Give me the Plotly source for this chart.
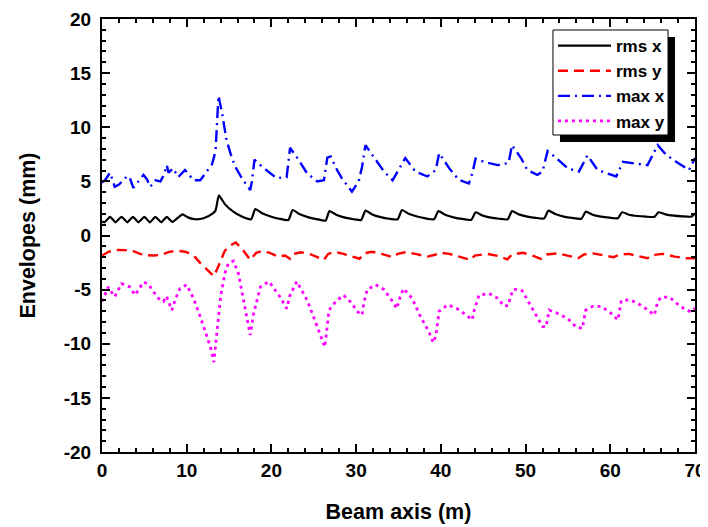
import plotly.graph_objects as go

# ---- data ----
rms_x_s = [0, 0.3, 0.95, 1.6, 2.3, 3.0, 3.65, 4.3, 5.0, 5.65, 6.3, 7.0, 7.65, 8.3, 8.9, 9.5, 10.2, 11.0, 12.0, 13.0, 13.4, 13.8,
           14.5, 15.5, 16.5, 17.6, 18.1, 18.9, 19.9, 20.9, 22.0, 22.5, 23.3, 24.3, 25.3, 26.4, 26.85, 27.7, 28.7, 29.7, 30.6,
           31.1, 31.9, 32.9, 33.9, 34.9, 35.4, 36.2, 37.2, 38.2, 39.2, 39.7, 40.5, 41.5, 42.5, 43.6, 44.1, 44.9, 45.9, 46.9,
           47.9, 48.4, 49.2, 50.2, 51.2, 52.2, 52.7, 53.5, 54.5, 55.5, 56.6, 57.1, 57.9, 58.9, 59.9, 60.9, 61.4, 62.2, 63.2,
           64.2, 65.2, 65.7, 66.5, 67.5, 68.5, 69.6, 70.0]
rms_x_v = [1.3, 1.22, 1.72, 1.22, 1.72, 1.22, 1.72, 1.22, 1.72, 1.22, 1.72, 1.22, 1.72, 1.25, 1.6, 1.95, 1.65, 1.5, 1.6, 2.0, 2.3, 3.7,
           2.9, 2.2, 1.75, 1.5, 2.45, 2.05, 1.75, 1.55, 1.43, 2.35, 1.98, 1.7, 1.52, 1.38, 2.25, 1.9, 1.65, 1.5, 1.43,
           2.3, 1.95, 1.7, 1.55, 1.5, 2.35, 2.0, 1.75, 1.58, 1.5, 2.25, 1.92, 1.68, 1.53, 1.45, 2.15, 1.85, 1.65, 1.55,
           1.5, 2.25, 1.95, 1.75, 1.63, 1.58, 2.3, 1.98, 1.75, 1.62, 1.55, 2.2, 1.92, 1.75, 1.65, 1.6, 2.15, 1.92, 1.8,
           1.74, 1.72, 2.15, 1.95, 1.83, 1.77, 1.75, 2.05]

rms_y_s = [0, 0.8, 1.7, 2.7, 3.7, 4.5, 5.3, 6.1, 6.9, 8.0, 9.0, 9.8, 10.4, 11.0, 11.6, 12.5, 13.2, 13.6, 14.5, 15.2, 15.8, 16.5,
           17.5, 18.2, 18.9, 19.8, 20.8, 21.6, 22.2, 22.6, 23.5, 24.5, 25.5, 26.2, 26.7, 27.5, 28.5, 29.3, 30.4, 30.9, 31.9,
           33.0, 34.3, 34.9, 35.8, 37.0, 38.4, 39.2, 40.0, 41.0, 42.5, 43.5, 44.0, 45.5, 46.8, 47.85, 48.4, 49.7, 51.0, 51.8,
           52.5, 53.8, 55.2, 56.2, 56.9, 58.0, 59.3, 60.4, 61.1, 62.2, 63.3, 64.4, 65.0, 66.2, 67.6, 68.8, 70.0]
rms_y_v = [-1.85, -1.5, -1.34, -1.35, -1.45, -1.7, -1.82, -1.85, -1.8, -1.5, -1.42, -1.5, -1.65, -2.0, -2.55, -3.2, -3.75, -3.1,
           -1.4, -0.9, -0.65, -1.2, -2.25, -1.6, -1.43, -1.6, -1.95, -1.85, -2.15, -1.7, -1.55, -1.7, -2.0, -2.25, -1.7, -1.5,
           -1.7, -1.9, -2.15, -1.65, -1.5, -1.7, -2.0, -1.7, -1.55, -1.7, -1.95, -1.8, -1.6, -1.7, -2.0, -2.25, -1.85, -1.7,
           -1.9, -2.2, -1.75, -1.6, -1.9, -2.15, -1.75, -1.65, -1.9, -2.1, -1.75, -1.65, -1.85, -2.0, -1.75, -1.7, -1.9,
           -2.1, -1.8, -1.7, -1.95, -2.1, -2.1]

max_x_s = [0, 0.35, 0.95, 1.5, 2.0, 2.5, 3.0, 3.3, 3.7, 4.3, 4.9, 5.3, 5.7, 6.3, 6.9, 7.3, 7.65, 7.85, 8.4, 9.0, 9.8, 10.3,
           10.8, 11.6, 12.4, 13.0, 13.4, 13.75, 14.2, 14.7, 15.2, 15.7, 16.5, 17.5, 17.7, 18.0, 18.9, 19.8, 20.6, 21.8, 22.2,
           23.2, 24.2, 25.4, 26.2, 26.6, 27.0, 27.75, 28.3, 29.5, 30.3, 30.7, 31.1, 31.9, 33.3, 34.3, 35.2, 35.8, 37.0, 38.4,
           39.4, 39.8, 41.0, 42.1, 43.3, 43.7, 44.1, 45.1, 46.7, 48.0, 48.4, 49.5, 50.2, 51.4, 52.0, 52.6, 53.7, 55.0, 56.3,
           57.3, 58.5, 60.7, 61.5, 62.5, 64.4, 65.6, 66.6, 68.0, 69.3, 70.0]
max_x_v = [4.9, 5.1, 5.8, 4.5, 4.7, 5.1, 5.5, 5.3, 4.4, 5.0, 5.6, 5.2, 4.5, 5.1, 5.0, 5.6, 6.5, 5.8, 6.2, 5.4, 6.05, 5.6,
           5.1, 5.1, 6.0, 6.6, 7.8, 12.9, 11.2, 8.8, 7.5, 6.4, 5.3, 4.2, 5.0, 7.0, 6.35, 5.8, 5.3, 5.4, 8.1,
           7.0, 5.75, 5.0, 5.1, 7.2, 7.3, 6.05, 5.3, 4.05, 5.0, 6.35, 8.35, 7.45, 5.9, 5.1, 6.35, 7.15, 5.9, 5.45,
           6.05, 7.6, 6.2, 5.15, 4.8, 5.7, 7.1, 6.8, 6.5, 6.7, 8.35, 7.1, 6.05, 5.6, 5.9, 7.8, 7.1, 6.2, 5.9,
           7.4, 6.05, 5.45, 6.8, 6.7, 6.5, 8.35, 7.45, 6.7, 6.05, 7.15]

max_y_s = [0, 0.4, 0.75, 1.1, 1.5, 2.3, 2.8, 3.3, 3.9, 4.9, 5.5, 5.9, 6.65, 7.25, 7.6, 8.25, 8.7, 9.2, 10.0, 10.8, 11.6, 12.2,
           12.8, 13.2, 13.6, 14.0, 14.5, 14.9, 15.5, 16.1, 16.7, 17.3, 17.5, 17.9, 18.7, 19.7, 21.0, 21.8, 22.2, 23.0, 24.2,
           25.4, 26.3, 26.8, 27.6, 28.5, 29.5, 30.1, 30.7, 30.9, 31.3, 32.3, 33.3, 34.3, 34.8, 35.2, 35.6, 36.6, 37.6, 38.6,
           39.1, 39.4, 39.8, 40.8, 41.9, 43.0, 43.7, 43.9, 44.5, 45.7, 46.7, 47.5, 48.0, 48.2, 48.6, 49.6, 50.2, 50.8, 51.4,
           52.0, 52.4, 52.8, 53.8, 55.0, 55.9, 56.7, 57.1, 57.9, 58.9, 59.9, 60.9, 61.3, 62.3, 63.2, 64.2, 65.2, 65.6, 66.0,
           67.0, 67.8, 68.7, 69.5, 70.0]
max_y_v = [-6.1, -5.3, -4.75, -5.2, -5.65, -4.45, -4.6, -4.75, -5.5, -4.3, -4.5, -5.0, -5.8, -6.1, -5.6, -6.9, -5.8, -4.9,
           -4.55, -5.8, -7.5, -8.8, -10.3, -11.7, -8.4, -5.65, -3.5, -2.6, -2.35, -3.5, -5.95, -8.4, -9.2, -7.2, -4.75,
           -4.25, -5.65, -6.75, -5.5, -4.25, -5.95, -8.4, -10.3, -6.9, -6.1, -5.5, -6.25, -7.0, -7.35, -6.25, -5.0, -4.55,
           -5.0, -6.1, -6.75, -5.65, -4.9, -5.8, -7.5, -8.9, -9.9, -9.3, -7.0, -6.4, -6.75, -7.35, -7.8, -7.0, -5.5, -5.35,
           -5.8, -6.55, -6.45, -5.65, -4.95, -5.1, -5.95, -6.8, -7.55, -8.4, -8.45, -6.9, -7.2, -7.7, -8.4, -8.6, -6.9,
           -6.55, -6.55, -7.05, -7.8, -6.0, -5.95, -6.25, -6.75, -7.35, -6.1, -5.7, -5.7, -6.25, -6.75, -7.05, -6.7]

names = ["rms x", "rms y", "max x", "max y"]
x_ticks = [0, 10, 20, 30, 40, 50, 60, 70]
y_ticks = [-20, -15, -10, -5, 0, 5, 10, 15, 20]

FONT = "Liberation Sans, Arial, sans-serif"

fig = go.Figure()
fig.add_trace(go.Scatter(x=rms_x_s, y=rms_x_v, mode="lines", name=names[0],
                         line=dict(color="#000000", width=2.2, shape="spline", smoothing=0.5)))
fig.add_trace(go.Scatter(x=rms_y_s, y=rms_y_v, mode="lines", name=names[1],
                         line=dict(color="#FF0000", width=2.4, dash="10px,6px")))
fig.add_trace(go.Scatter(x=max_x_s, y=max_x_v, mode="lines", name=names[2],
                         line=dict(color="#0000FF", width=2.4, dash="12px,5px,2px,5px")))
fig.add_trace(go.Scatter(x=max_y_s, y=max_y_v, mode="lines", name=names[3],
                         line=dict(color="#FF00FF", width=2.8, dash="3px,4px")))

axis_common = dict(showline=True, linecolor="black", linewidth=2, mirror="allticks",
                   ticks="inside", ticklen=8, tickwidth=2, tickcolor="black",
                   showgrid=False, zeroline=False, automargin=False,
                   tickfont=dict(family=FONT, size=19, color="black", weight="bold"))

fig.update_xaxes(range=[0, 70], tickvals=x_ticks, ticktext=[str(v) for v in x_ticks],
                 minor=dict(dtick=2, ticks="inside", ticklen=4, tickwidth=2, tickcolor="black"),
                 title=dict(text="Beam axis (m)", font=dict(family=FONT, size=21.5, color="black", weight="bold"),
                            standoff=24),
                 **axis_common)
fig.update_yaxes(range=[-20, 20], tickvals=y_ticks, ticktext=[str(v) for v in y_ticks],
                 minor=dict(dtick=1, ticks="inside", ticklen=4, tickwidth=2, tickcolor="black"),
                 ticklabelstandoff=5,
                 title=dict(text="Envelopes (mm)", font=dict(family=FONT, size=21.5, color="black", weight="bold"),
                            standoff=22),
                 **axis_common)

# legend frame: drop shadow, then white box with black border (legend text drawn on top)
fig.add_shape(type="rect", xref="paper", yref="paper", x0=0.7723, x1=0.9663, y0=0.716, y1=0.9584,
              fillcolor="black", line=dict(width=0), layer="above")
fig.add_shape(type="rect", xref="paper", yref="paper", x0=0.7605, x1=0.9545, y0=0.7321, y1=0.9746,
              fillcolor="white", line=dict(color="black", width=1), layer="above")

# the page body has an 8px margin, so the figure is sized / offset to compensate
fig.update_layout(
    width=700, height=519,
    margin=dict(l=94, r=13, t=11, b=75),
    paper_bgcolor="white", plot_bgcolor="white",
    showlegend=True,
    legend=dict(x=0.7605, y=0.979, xanchor="left", yanchor="top",
                bgcolor="rgba(0,0,0,0)", borderwidth=0,
                font=dict(family=FONT, size=17, color="black", weight="bold"),
                itemwidth=53, tracegroupgap=0),
)

fig.write_html("out.html")
